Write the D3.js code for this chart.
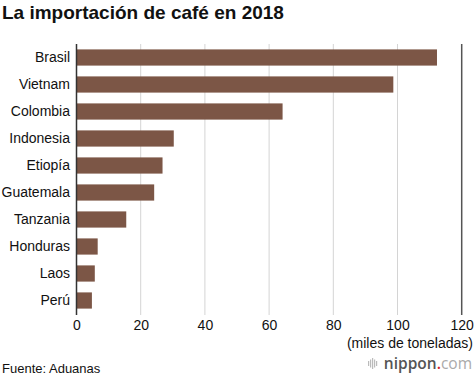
<!DOCTYPE html>
<html>
<head>
<meta charset="utf-8">
<script src="https://cdn.jsdelivr.net/npm/d3@7"></script>
<style>
  body { margin: 0; background: #fff; }
  svg { display: block; font-family: "Liberation Sans", Arial, sans-serif; }
</style>
</head>
<body>
<svg id="chart" width="474" height="377"></svg>
<script>
// datos
var paises = ["Brasil", "Vietnam", "Colombia", "Indonesia", "Etiopía", "Guatemala", "Tanzania", "Honduras", "Laos", "Perú"];
var miles = [112.3, 98.7, 64.2, 30.3, 26.8, 24.2, 15.5, 6.6, 5.7, 4.8];
var ticks = [0, 20, 40, 60, 80, 100, 120];

var main;
(function (main) {
    function ini() {
        var svg = d3.select("#chart");
        var left = 76.5, right = 461.7, top = 44, bottom = 315;

        var x = d3.scaleLinear().domain([0, 120]).range([left, right]);
        var y = d3.scaleBand().domain(paises).range([44, 314]).paddingInner(0.4).paddingOuter(0.2);

        svg.append("text")
            .attr("x", 2).attr("y", 19)
            .attr("font-size", 19).attr("font-weight", "bold").attr("fill", "#111")
            .text("La importación de café en 2018");

        // lineas de grilla
        svg.selectAll(".grid").data(ticks.slice(1, -1)).enter().append("line")
            .attr("x1", d => x(d)).attr("x2", d => x(d))
            .attr("y1", top).attr("y2", bottom)
            .attr("stroke", "#d4d4d4").attr("stroke-width", 1);

        svg.selectAll(".bar").data(miles).enter().append("rect")
            .attr("x", x(0))
            .attr("y", (d, i) => y(paises[i]))
            .attr("width", d => x(d) - x(0))
            .attr("height", y.bandwidth())
            .attr("fill", "#7c5646");

        svg.append("line")
            .attr("x1", x(0)).attr("x2", x(0)).attr("y1", top).attr("y2", bottom)
            .attr("stroke", "#333").attr("stroke-width", 1.5);
        svg.append("line")
            .attr("x1", x(120)).attr("x2", x(120)).attr("y1", top).attr("y2", bottom)
            .attr("stroke", "#555").attr("stroke-width", 1.5);

        svg.selectAll(".cat").data(paises).enter().append("text")
            .attr("x", 70).attr("y", d => y(d) + y.bandwidth() / 2)
            .attr("dy", "0.35em").attr("text-anchor", "end")
            .attr("font-size", 14).attr("fill", "#111")
            .text(d => d);

        var xAxis = d3.axisBottom(x).tickValues(ticks).tickSize(0).tickPadding(0);
        var gx = svg.append("g").attr("transform", "translate(0,320)").call(xAxis);
        gx.select(".domain").remove();
        gx.selectAll("text").attr("font-size", 14).attr("fill", "#111")
            .attr("font-family", "Liberation Sans, Arial, sans-serif").attr("dy", "0.71em");

        svg.append("text")
            .attr("x", 473).attr("y", 348).attr("text-anchor", "end")
            .attr("font-size", 14).attr("fill", "#111")
            .text("(miles de toneladas)");

        svg.append("text")
            .attr("x", 2).attr("y", 373)
            .attr("font-size", 13).attr("fill", "#111")
            .text("Fuente: Aduanas");

        // logo nippon.com
        var logo = svg.append("g");
        [0, 2, 4, 6, 8].forEach(function (o, i) {
            logo.append("rect")
                .attr("x", 368 + o).attr("y", 358 + (i == 2 ? 0 : (i % 2 ? 1.5 : 3)))
                .attr("width", 1.2).attr("height", i == 2 ? 11 : (i % 2 ? 8 : 5))
                .attr("fill", "#bbb");
        });
        var t = logo.append("text")
            .attr("x", 472).attr("y", 369).attr("text-anchor", "end")
            .attr("font-size", 15.5).attr("font-family", "Open Sans, sans-serif");
        t.append("tspan").attr("fill", "#555").attr("font-weight", "600").text("nippon");
        t.append("tspan").attr("fill", "#d0202a").attr("font-weight", "600").text(".");
        t.append("tspan").attr("fill", "#aaa").text("com");
    }
    main.ini = ini;
})(main || (main = {}));
main.ini();
</script>
</body>
</html>
